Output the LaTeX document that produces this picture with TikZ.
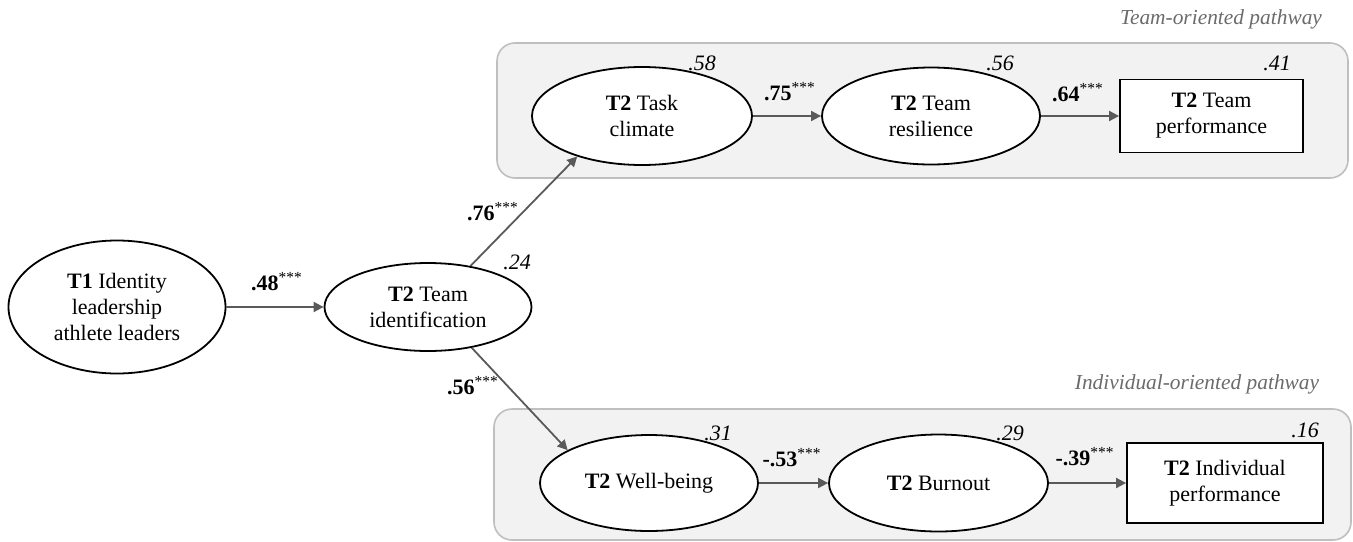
\documentclass[tikz,border=0pt]{standalone}
\usepackage{fontspec}
\setmainfont{Liberation Serif}
\usetikzlibrary{shapes.geometric,arrows.meta}

\definecolor{boxfill}{HTML}{F2F2F2}
\definecolor{boxline}{HTML}{BFBFBF}
\definecolor{arrowgray}{HTML}{595959}
\definecolor{pathgray}{HTML}{6B6B6B}

\tikzset{
	every node/.style={font=\rmfamily\fontsize{11}{13}\selectfont},
	latent/.style={draw, ellipse, line width=0.9pt, fill=white, align=center, inner sep=0pt},
	observed/.style={draw, rectangle, line width=0.9pt, fill=white, align=center, inner sep=0pt},
	pathbox/.style={draw=boxline, fill=boxfill, rounded corners=9pt, line width=0.8pt},
	coef/.style={inner sep=0pt},
	rsq/.style={inner sep=0pt, font=\rmfamily\fontsize{11}{13}\selectfont\itshape},
	pathlabel/.style={inner sep=0pt, text=pathgray, font=\rmfamily\fontsize{10.7}{13}\selectfont\itshape},
	link/.style={draw=arrowgray, line width=0.9pt, -{Triangle[length=5pt,width=5pt]}},
}

\newcommand{\coefval}[1]{\textbf{#1}\textsuperscript{***}}

\begin{document}
\begin{tikzpicture}[x=0.5pt, y=-0.5pt]
	\useasboundingbox (0,0) rectangle (1353,541);

	% pathway boxes
	\draw[pathbox] (497,43) rectangle (1348,178);
	\draw[pathbox] (494,409) rectangle (1351,540);
	\node[pathlabel] at (1221,19) (teampath) {Team-oriented pathway};
	\node[pathlabel] at (1197,384) (indpath) {Individual-oriented pathway};

	\node[latent, minimum width=108.5pt, minimum height=66.5pt] at (117,307) (leader) {\textbf{T1} Identity\\leadership\\athlete leaders};
	\node[latent, minimum width=103.5pt, minimum height=44pt] at (428,307) (ident) {\textbf{T2} Team\\identification};
	\node[latent, minimum width=110pt, minimum height=49pt] at (642,116) (task) {\textbf{T2} Task\\climate};
	\node[latent, minimum width=109pt, minimum height=48.5pt] at (931,116) (resil) {\textbf{T2} Team\\resilience};
	\node[observed, minimum width=91.5pt, minimum height=36.5pt] at (1211.5,116) (teamperf) {\textbf{T2} Team\\performance};
	\node[latent, minimum width=109pt, minimum height=48pt] at (649,483) (well) {\textbf{T2} Well-being};
	\node[latent, minimum width=109.5pt, minimum height=48.5pt] at (938.5,483) (burn) {\textbf{T2} Burnout};
	\node[observed, minimum width=98pt, minimum height=40pt] at (1225,483) (indperf) {\textbf{T2} Individual\\performance};

	% r-squared
	\node[rsq] at (517,262) (rident) {.24};
	\node[rsq] at (702,63) (rtask) {.58};
	\node[rsq] at (1000,63) (rresil) {.56};
	\node[rsq] at (1277,63) (rteamperf) {.41};
	\node[rsq] at (718,433) (rwell) {.31};
	\node[rsq] at (1010,433) (rburn) {.29};
	\node[rsq] at (1305,430) (rindperf) {.16};

	% path coefficients
	\node[coef] at (277,282) (c48) {\coefval{.48}};
	\node[coef] at (493,212) (c76) {\coefval{.76}};
	\node[coef] at (473,386) (c56) {\coefval{.56}};
	\node[coef] at (790,92) (c75) {\coefval{.75}};
	\node[coef] at (1078,93) (c64) {\coefval{.64}};
	\node[coef] at (792,458) (c53) {\coefval{-.53}};
	\node[coef] at (1085,457) (c39) {\coefval{-.39}};

	\draw[link] (leader) -- (ident);
	\draw[link] (ident.44) -- (task.212);
	\draw[link] (ident.317) -- (well.158);
	\draw[link] (task) -- (resil);
	\draw[link] (resil) -- (teamperf);
	\draw[link] (well) -- (burn);
	\draw[link] (burn) -- (indperf);
\end{tikzpicture}
\end{document}
